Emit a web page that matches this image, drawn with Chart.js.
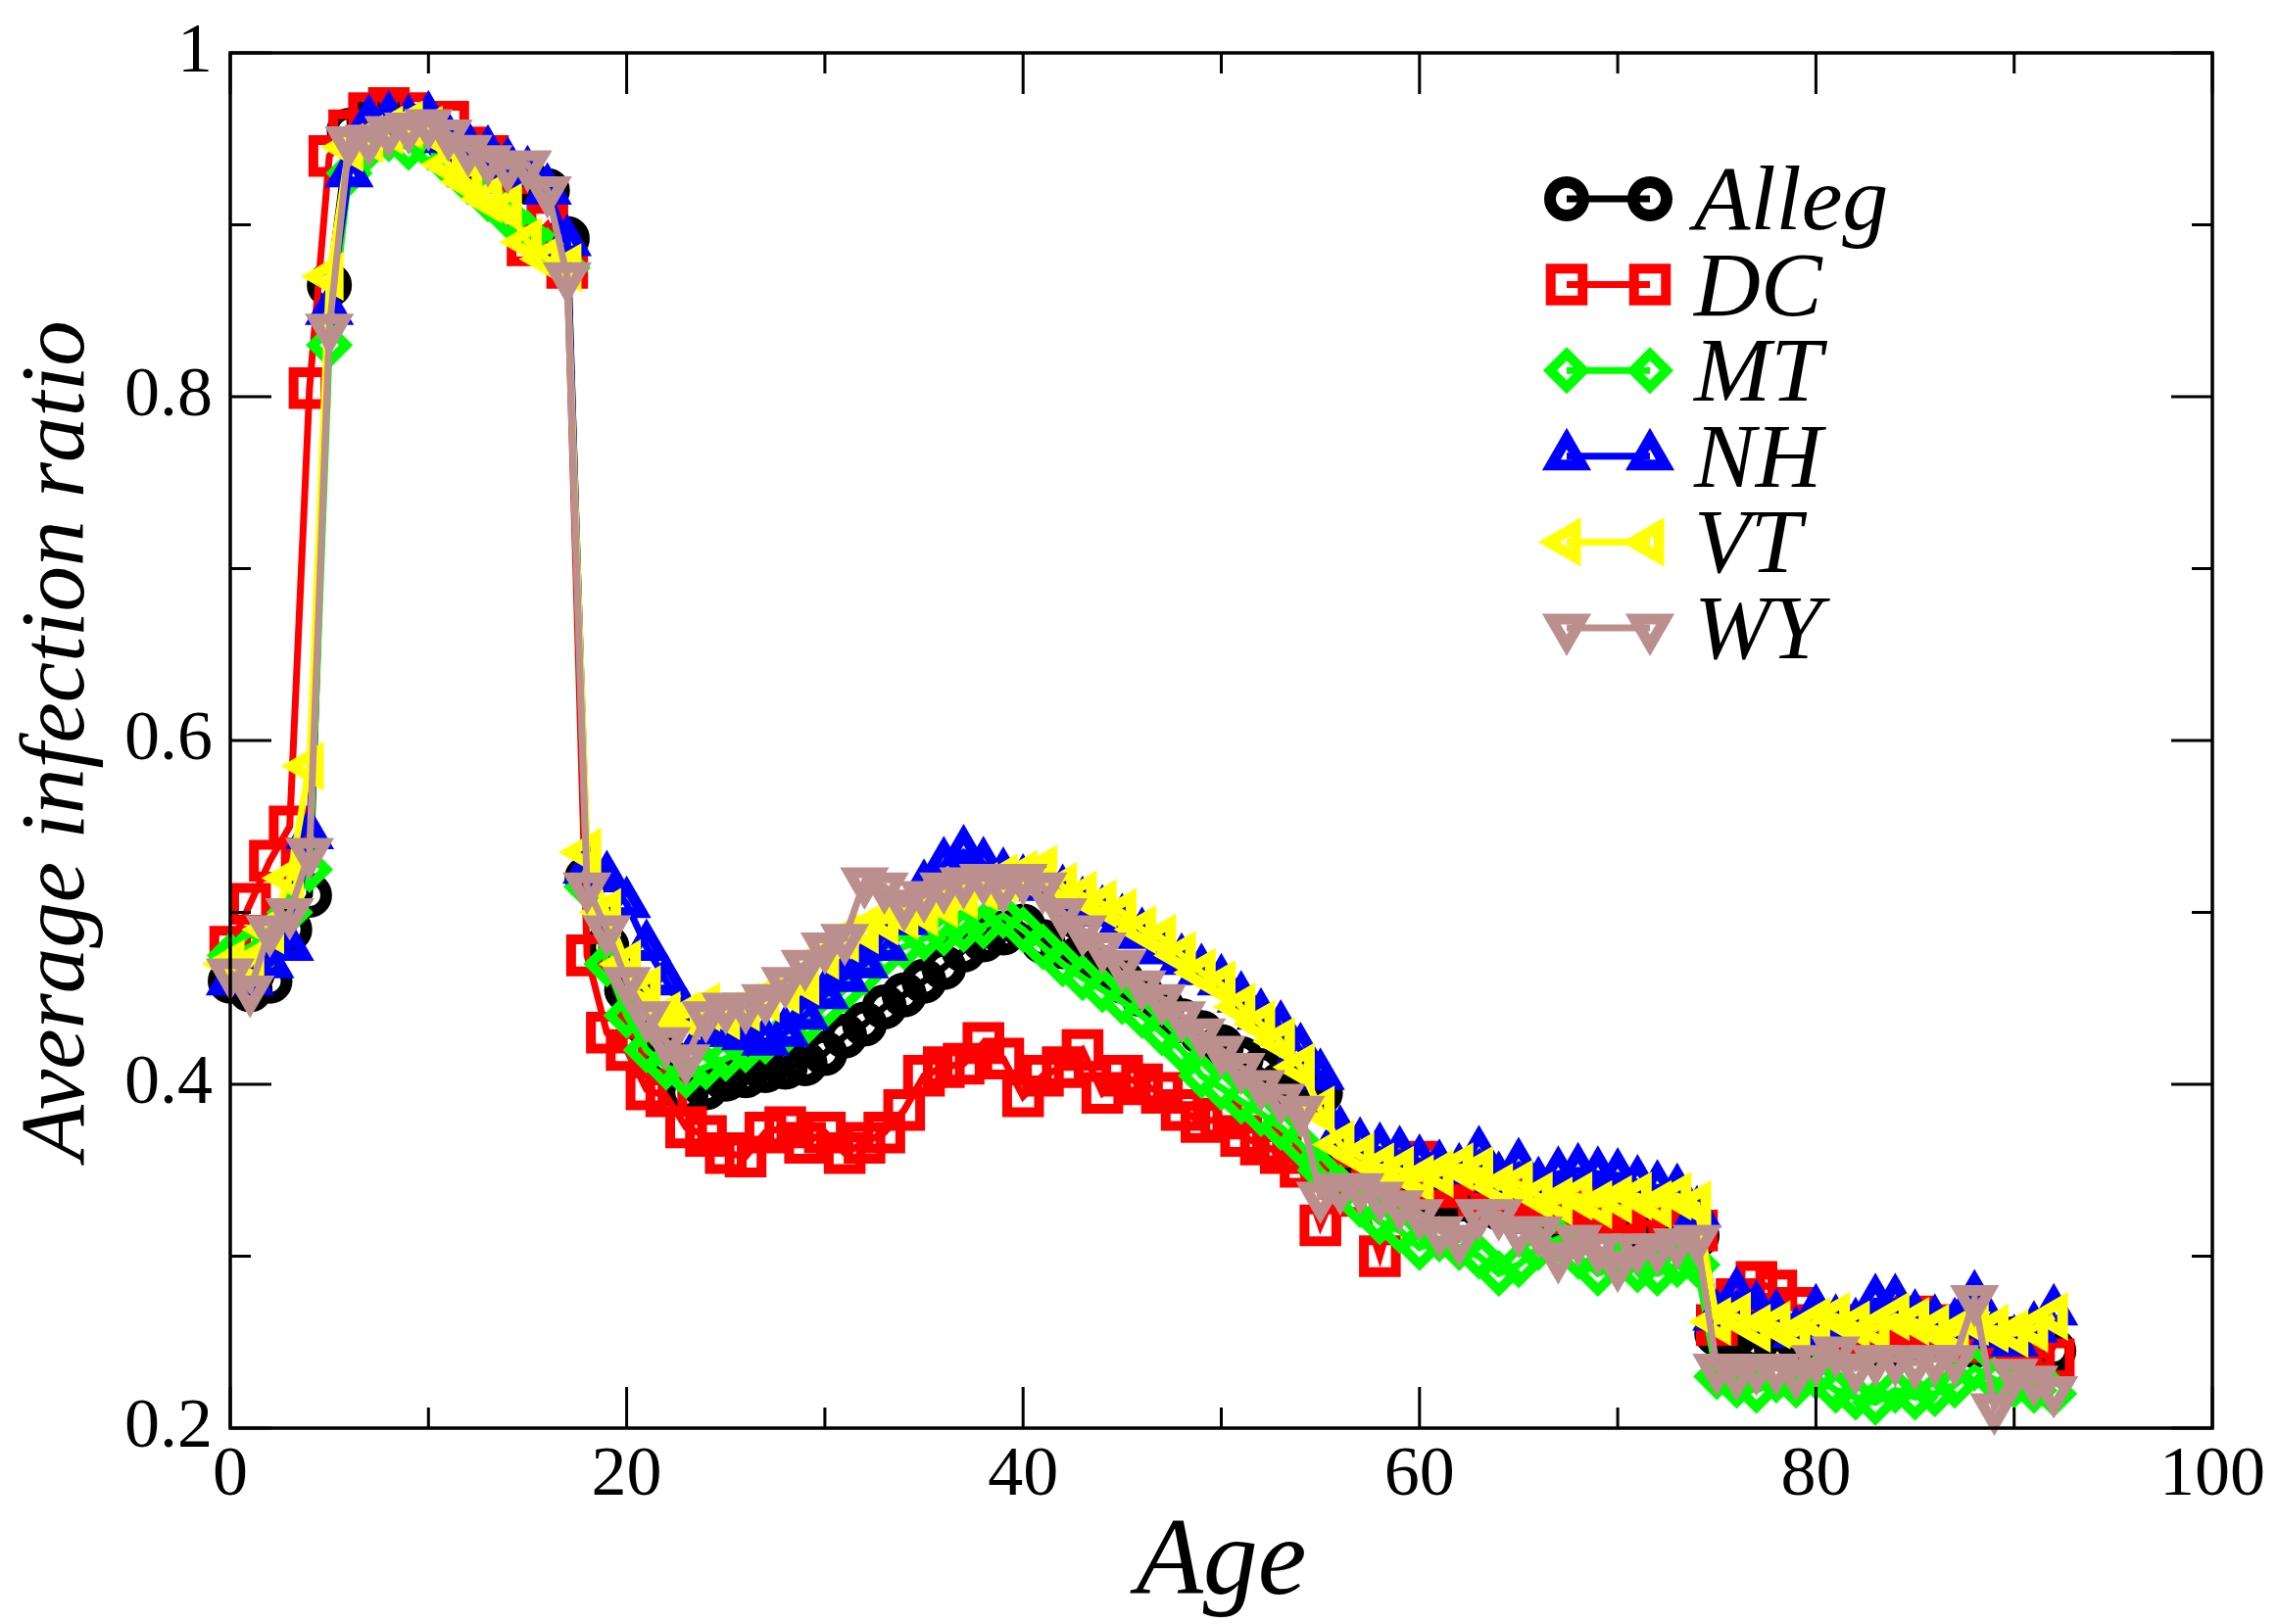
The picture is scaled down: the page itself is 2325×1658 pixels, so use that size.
<!DOCTYPE html>
<html>
<head>
<meta charset="utf-8">
<title>Average infection ratio by age</title>
<script src="https://cdn.jsdelivr.net/npm/chart.js@4.4.1/dist/chart.umd.min.js"></script>
<style>
    html, body { margin: 0; padding: 0; background: #ffffff; }
    #wrap { width: 2325px; height: 1658px; }
</style>
</head>
<body>
<div id="wrap"><canvas id="ageChart" width="2325" height="1658"></canvas></div>
<script>
// ages 0..92
const ages = [
    0, 1, 2, 3, 4, 5, 6, 7, 8, 9,
    10, 11, 12, 13, 14, 15, 16, 17, 18, 19,
    20, 21, 22, 23, 24, 25, 26, 27, 28, 29,
    30, 31, 32, 33, 34, 35, 36, 37, 38, 39,
    40, 41, 42, 43, 44, 45, 46, 47, 48, 49,
    50, 51, 52, 53, 54, 55, 56, 57, 58, 59,
    60, 61, 62, 63, 64, 65, 66, 67, 68, 69,
    70, 71, 72, 73, 74, 75, 76, 77, 78, 79,
    80, 81, 82, 83, 84, 85, 86, 87, 88, 89,
    90, 91, 92
];

const alleg = [
    0.460, 0.455, 0.460, 0.490, 0.510, 0.865, 0.955, 0.960, 0.962, 0.958,
    0.955, 0.948, 0.940, 0.935, 0.928, 0.925, 0.920, 0.892, 0.520, 0.480,
    0.455, 0.435, 0.415, 0.395, 0.398, 0.403, 0.405, 0.408, 0.410, 0.412,
    0.418, 0.428, 0.435, 0.445, 0.452, 0.460, 0.468, 0.478, 0.484, 0.488,
    0.492, 0.483, 0.480, 0.475, 0.468, 0.460, 0.452, 0.445, 0.437, 0.430,
    0.422, 0.415, 0.408, 0.400, 0.398, 0.395, 0.350, 0.345, 0.342, 0.340,
    0.338, 0.335, 0.333, 0.330, 0.328, 0.326, 0.325, 0.322, 0.320, 0.320,
    0.318, 0.318, 0.316, 0.315, 0.312, 0.255, 0.255, 0.250, 0.247, 0.252,
    0.250, 0.248, 0.252, 0.247, 0.248, 0.250, 0.252, 0.250, 0.248, 0.250,
    0.252, 0.250, 0.245
];

const dc = [
    0.480, 0.505, 0.530, 0.550, 0.805, 0.940, 0.955, 0.965, 0.968, 0.965,
    0.958, 0.960, 0.945, 0.940, 0.930, 0.888, 0.900, 0.875, 0.475, 0.430,
    0.420, 0.397, 0.393, 0.375, 0.370, 0.360, 0.358, 0.372, 0.375, 0.366,
    0.372, 0.360, 0.366, 0.372, 0.385, 0.405, 0.410, 0.412, 0.424, 0.415,
    0.393, 0.405, 0.410, 0.420, 0.395, 0.405, 0.400, 0.395, 0.385, 0.378,
    0.380, 0.370, 0.365, 0.360, 0.352, 0.318, 0.345, 0.335, 0.300, 0.340,
    0.355, 0.345, 0.340, 0.335, 0.330, 0.335, 0.330, 0.325, 0.328, 0.320,
    0.325, 0.320, 0.318, 0.320, 0.315, 0.260, 0.275, 0.285, 0.280, 0.270,
    0.260, 0.255, 0.260, 0.255, 0.260, 0.265, 0.260, 0.255, 0.250, 0.250,
    0.250, 0.245, 0.240
];

const mt = [
    0.475, 0.480, 0.480, 0.500, 0.525, 0.830, 0.930, 0.945, 0.950, 0.945,
    0.945, 0.935, 0.925, 0.915, 0.905, 0.895, 0.885, 0.875, 0.515, 0.470,
    0.440, 0.420, 0.410, 0.405, 0.410, 0.415, 0.420, 0.425, 0.430, 0.435,
    0.445, 0.455, 0.465, 0.475, 0.480, 0.485, 0.488, 0.490, 0.492, 0.498,
    0.490, 0.480, 0.470, 0.462, 0.455, 0.448, 0.440, 0.430, 0.420, 0.405,
    0.398, 0.390, 0.383, 0.375, 0.365, 0.350, 0.340, 0.330, 0.320, 0.315,
    0.305, 0.310, 0.305, 0.300, 0.290, 0.295, 0.305, 0.310, 0.300, 0.290,
    0.295, 0.292, 0.290, 0.295, 0.295, 0.230, 0.225, 0.222, 0.228, 0.225,
    0.230, 0.222, 0.218, 0.215, 0.222, 0.218, 0.220, 0.225, 0.235, 0.228,
    0.225, 0.222, 0.220
];

const nh = [
    0.460, 0.460, 0.470, 0.480, 0.545, 0.850, 0.930, 0.960, 0.962, 0.960,
    0.962, 0.950, 0.945, 0.942, 0.935, 0.930, 0.920, 0.890, 0.525, 0.520,
    0.505, 0.480, 0.460, 0.440, 0.430, 0.430, 0.428, 0.425, 0.430, 0.440,
    0.452, 0.462, 0.470, 0.480, 0.495, 0.515, 0.528, 0.535, 0.528, 0.522,
    0.518, 0.515, 0.512, 0.505, 0.500, 0.495, 0.487, 0.478, 0.472, 0.466,
    0.460, 0.450, 0.440, 0.433, 0.420, 0.405, 0.372, 0.365, 0.362, 0.360,
    0.355, 0.352, 0.350, 0.360, 0.345, 0.353, 0.342, 0.348, 0.350, 0.348,
    0.347, 0.343, 0.340, 0.338, 0.325, 0.265, 0.278, 0.270, 0.265, 0.255,
    0.268, 0.262, 0.260, 0.274, 0.274, 0.265, 0.262, 0.260, 0.276, 0.255,
    0.250, 0.258, 0.268
];

const vt = [
    0.470, 0.470, 0.490, 0.520, 0.585, 0.870, 0.945, 0.950, 0.955, 0.958,
    0.955, 0.935, 0.925, 0.915, 0.910, 0.890, 0.880, 0.875, 0.535, 0.500,
    0.470, 0.455, 0.440, 0.440, 0.445, 0.440, 0.445, 0.450, 0.455, 0.460,
    0.475, 0.485, 0.490, 0.495, 0.498, 0.500, 0.505, 0.510, 0.515, 0.520,
    0.522, 0.525, 0.515, 0.510, 0.505, 0.500, 0.490, 0.485, 0.475, 0.465,
    0.458, 0.445, 0.435, 0.425, 0.410, 0.385, 0.365, 0.358, 0.352, 0.350,
    0.345, 0.348, 0.352, 0.350, 0.340, 0.342, 0.335, 0.332, 0.335, 0.330,
    0.333, 0.335, 0.330, 0.335, 0.330, 0.262, 0.265, 0.258, 0.260, 0.255,
    0.262, 0.265, 0.260, 0.258, 0.265, 0.262, 0.258, 0.255, 0.262, 0.258,
    0.255, 0.258, 0.265
];

const wy = [
    0.465, 0.455, 0.490, 0.500, 0.535, 0.840, 0.949, 0.950, 0.955, 0.957,
    0.959, 0.953, 0.944, 0.938, 0.934, 0.935, 0.920, 0.870, 0.515, 0.490,
    0.460, 0.440, 0.425, 0.415, 0.440, 0.445, 0.445, 0.450, 0.460, 0.470,
    0.480, 0.485, 0.518, 0.515, 0.505, 0.510, 0.515, 0.518, 0.520, 0.515,
    0.520, 0.515, 0.500, 0.490, 0.480, 0.470, 0.458, 0.450, 0.440, 0.430,
    0.420, 0.410, 0.400, 0.392, 0.385, 0.335, 0.340, 0.340, 0.335, 0.330,
    0.325, 0.315, 0.310, 0.325, 0.325, 0.315, 0.315, 0.300, 0.310, 0.305,
    0.295, 0.305, 0.305, 0.308, 0.310, 0.235, 0.232, 0.235, 0.235, 0.232,
    0.240, 0.245, 0.235, 0.240, 0.240, 0.238, 0.240, 0.240, 0.275, 0.212,
    0.232, 0.228, 0.222
];

const xTicks = [0, 20, 40, 60, 80, 100];
const xMinorTicks = [10, 30, 50, 70, 90];
const yTicks = [0.2, 0.4, 0.6, 0.8, 1];
const yMinorTicks = [0.3, 0.5, 0.7, 0.9];

const serif = '"Liberation Serif", "Times New Roman", serif';

function toPoints(values) {
    return ages.map((a, i) => ({ x: a, y: values[i] }));
}

function series(label, values, color, style, radius, rotation, symWidth, order) {
    return {
        label: label,
        data: toPoints(values),
        borderColor: color,
        backgroundColor: color,
        borderWidth: 7,
        pointStyle: style,
        pointRadius: radius,
        pointHoverRadius: radius,
        pointRotation: rotation,
        pointBorderColor: color,
        pointBackgroundColor: 'rgba(0,0,0,0)',
        pointBorderWidth: symWidth,
        tension: 0,
        fill: false,
        clip: false,
        order: order
    };
}

// inward ticks on all four sides plus the box
const frameTicks = {
    id: 'frameTicks',
    afterDatasetsDraw(chart) {
        const { ctx, chartArea: a, scales: { x, y } } = chart;
        ctx.save();
        ctx.strokeStyle = '#000';
        ctx.lineWidth = 3;
        ctx.beginPath();
        const xt = (v, len) => {
            const px = x.getPixelForValue(v);
            ctx.moveTo(px, a.bottom); ctx.lineTo(px, a.bottom - len);
            ctx.moveTo(px, a.top); ctx.lineTo(px, a.top + len);
        };
        const yt = (v, len) => {
            const py = y.getPixelForValue(v);
            ctx.moveTo(a.left, py); ctx.lineTo(a.left + len, py);
            ctx.moveTo(a.right, py); ctx.lineTo(a.right - len, py);
        };
        xTicks.forEach(v => xt(v, 42));
        xMinorTicks.forEach(v => xt(v, 21));
        yTicks.forEach(v => yt(v, 42));
        yMinorTicks.forEach(v => yt(v, 21));
        ctx.stroke();
        ctx.lineWidth = 3.5;
        ctx.strokeRect(a.left, a.top, a.right - a.left, a.bottom - a.top);
        ctx.restore();
    }
};

// xmgrace style legend: line with a symbol at each end
const lineLegend = {
    id: 'lineLegend',
    afterDraw(chart) {
        const ctx = chart.ctx;
        const x1 = 1599, x2 = 1684, top = 203, step = 87.6;
        chart.data.datasets.forEach((ds, i) => {
            const cy = top + i * step;
            ctx.save();
            ctx.strokeStyle = ds.borderColor;
            ctx.lineWidth = ds.borderWidth;
            ctx.beginPath();
            ctx.moveTo(x1, cy);
            ctx.lineTo(x2, cy);
            ctx.stroke();
            ctx.fillStyle = ds.pointBackgroundColor;
            ctx.strokeStyle = ds.pointBorderColor;
            ctx.lineWidth = ds.pointBorderWidth;
            [x1, x2].forEach(px => {
                Chart.helpers.drawPoint(ctx, {
                    pointStyle: ds.pointStyle,
                    radius: ds.pointRadius,
                    rotation: ds.pointRotation,
                    borderWidth: ds.pointBorderWidth
                }, px, cy);
            });
            ctx.fillStyle = '#000';
            ctx.font = 'italic 94px ' + serif;
            ctx.textAlign = 'left';
            ctx.textBaseline = 'alphabetic';
            ctx.fillText(ds.label, 1729, cy + 31);
            ctx.restore();
        });
    }
};

const chart = new Chart(document.getElementById('ageChart').getContext('2d'), {
    type: 'line',
    data: {
        datasets: [
            series('Alleg', alleg, '#000000', 'circle', 17, 0, 12, 6),
            series('DC', dc, '#ff0000', 'rect', 23, 0, 10, 5),
            series('MT', mt, '#00ff00', 'rectRot', 17, 0, 10, 4),
            series('NH', nh, '#0000ff', 'triangle', 18, 0, 11, 3),
            series('VT', vt, '#ffff00', 'triangle', 18, 270, 11, 2),
            series('WY', wy, 'rgb(188,143,143)', 'triangle', 18, 180, 11, 1)
        ]
    },
    options: {
        responsive: false,
        animation: false,
        events: [],
        layout: { padding: { left: 0, top: 39, right: 61, bottom: 0 } },
        plugins: {
            legend: { display: false },
            tooltip: { enabled: false },
            title: { display: false }
        },
        scales: {
            x: {
                type: 'linear',
                min: 0,
                max: 100,
                grid: { display: false, drawTicks: false },
                border: { display: false },
                afterBuildTicks: s => { s.ticks = xTicks.map(v => ({ value: v })); },
                afterFit: s => { s.height = 200; },
                ticks: {
                    color: '#000',
                    padding: 13,
                    maxRotation: 0,
                    font: { family: serif, size: 72, lineHeight: 1 },
                    callback: v => String(v)
                },
                title: {
                    display: true,
                    text: 'Age',
                    color: '#000',
                    padding: { top: 0, bottom: 4 },
                    font: { family: serif, size: 112, style: 'italic', lineHeight: 1 }
                }
            },
            y: {
                min: 0.2,
                max: 1,
                grid: { display: false, drawTicks: false },
                border: { display: false },
                afterBuildTicks: s => { s.ticks = yTicks.map(v => ({ value: v })); },
                afterFit: s => { s.width = 235; },
                ticks: {
                    color: '#000',
                    padding: 18,
                    font: { family: serif, size: 72, lineHeight: 1 },
                    callback: v => String(v)
                },
                title: {
                    display: true,
                    text: 'Average infection ratio',
                    color: '#000',
                    padding: { top: 14, bottom: 0 },
                    font: { family: serif, size: 93, style: 'italic', lineHeight: 1 }
                }
            }
        }
    },
    plugins: [frameTicks, lineLegend]
});
</script>
</body>
</html>
